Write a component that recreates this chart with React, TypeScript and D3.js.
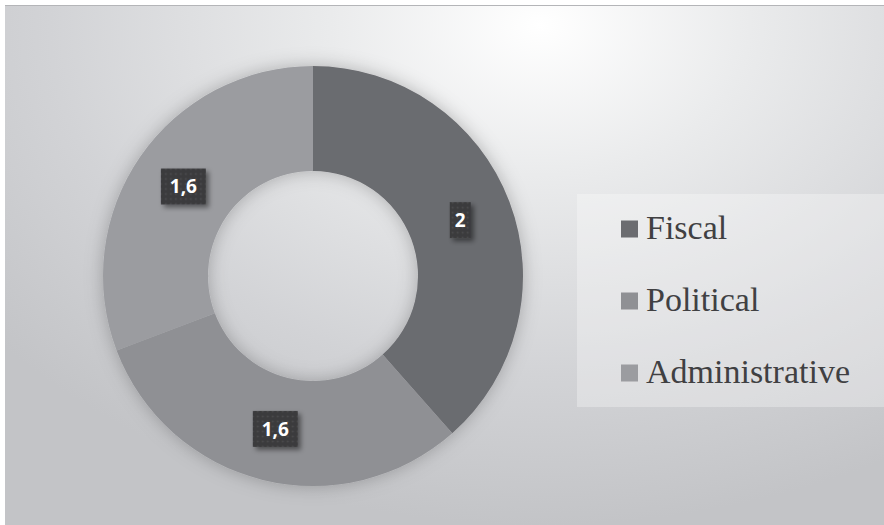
import React from "react";
import * as d3 from "d3";

const categories = ["Fiscal", "Political", "Administrative"];
const values = [2, 1.6, 1.6];
const valueLabels = ["2", "1,6", "1,6"];
const colors = ["#6b6c70", "#8f9094", "#9b9ca0"];

const W = 884;
const H = 525;

export default function App() {
  const cx = 313;
  const cy = 276;
  const outerR = 210;
  const innerR = 105;

  const pie = d3
    .pie<number>()
    .sort(null)
    .value((d) => d)
    .startAngle(0)
    .endAngle(2 * Math.PI);
  const arcs = pie(values);
  const arc = d3.arc<d3.PieArcDatum<number>>().innerRadius(innerR).outerRadius(outerR);

  const legendX = 621;
  const legendY0 = 238.5;
  const legendStep = 72;

  return (
    <svg
      width={W}
      height={H}
      style={{ position: "absolute", left: 0, top: 0, display: "block" }}
      xmlns="http://www.w3.org/2000/svg"
    >
      <defs>
        <radialGradient
          id="bg"
          gradientUnits="userSpaceOnUse"
          cx={0}
          cy={0}
          r={1}
          gradientTransform="translate(540,25) scale(700,500)"
        >
          <stop offset="0" stopColor="#ffffff" />
          <stop offset="0.3" stopColor="#eaebec" />
          <stop offset="0.7" stopColor="#d2d3d6" />
          <stop offset="1" stopColor="#c3c4c7" />
        </radialGradient>
        <filter id="donutShadow" x="-20%" y="-20%" width="140%" height="140%">
          <feDropShadow dx="0" dy="0" stdDeviation="9" floodColor="#000" floodOpacity="0.25" />
        </filter>
        <filter id="boxShadow" x="-30%" y="-30%" width="170%" height="170%">
          <feDropShadow dx="3" dy="3" stdDeviation="2.5" floodColor="#000" floodOpacity="0.45" />
        </filter>
        <pattern id="dots" width="5" height="5" patternUnits="userSpaceOnUse">
          <rect width="5" height="5" fill="#3b3b3d" />
          <circle cx="2.5" cy="2.5" r="0.9" fill="#4c4c4f" />
        </pattern>
      </defs>

      <rect x={0} y={0} width={W} height={H} fill="#ffffff" />
      <rect x={5} y={5} width={W - 5} height={H - 5} fill="url(#bg)" />
      <line x1={5} x2={W} y1={5.5} y2={5.5} stroke="#b4b5b8" strokeWidth={1.2} />

      <g transform={`translate(${cx},${cy})`}>
        <g filter="url(#donutShadow)">
          {arcs.map((a, i) => (
            <path key={categories[i]} d={arc(a) || ""} fill={colors[i]} />
          ))}
        </g>
        {arcs.map((a, i) => {
          const [lx, ly] = arc.centroid(a);
          const label = valueLabels[i];
          const bw = 12 * label.length + 9;
          const bh = 36;
          return (
            <g key={"lbl" + i} transform={`translate(${lx},${ly})`}>
              <rect
                x={-bw / 2}
                y={-bh / 2}
                width={bw}
                height={bh}
                fill="url(#dots)"
                filter="url(#boxShadow)"
              />
              <text
                x={0}
                y={0}
                dy="0.36em"
                textAnchor="middle"
                fill="#ffffff"
                fontFamily="'Open Sans', sans-serif"
                fontWeight={700}
                fontSize={19}
              >
                {label}
              </text>
            </g>
          );
        })}
      </g>

      <rect x={577} y={194} width={W - 577} height={213} fill="#ffffff" fillOpacity={0.3} />
      {categories.map((c, i) => {
        const by = legendY0 + i * legendStep;
        return (
          <g key={"leg" + c}>
            <rect x={legendX} y={by - 18} width={17} height={17} fill={colors[i]} />
            <text
              x={legendX + 25}
              y={by}
              fill="#404042"
              fontFamily="'Liberation Serif', 'Times New Roman', serif"
              fontSize={34}
            >
              {c}
            </text>
          </g>
        );
      })}
    </svg>
  );
}
